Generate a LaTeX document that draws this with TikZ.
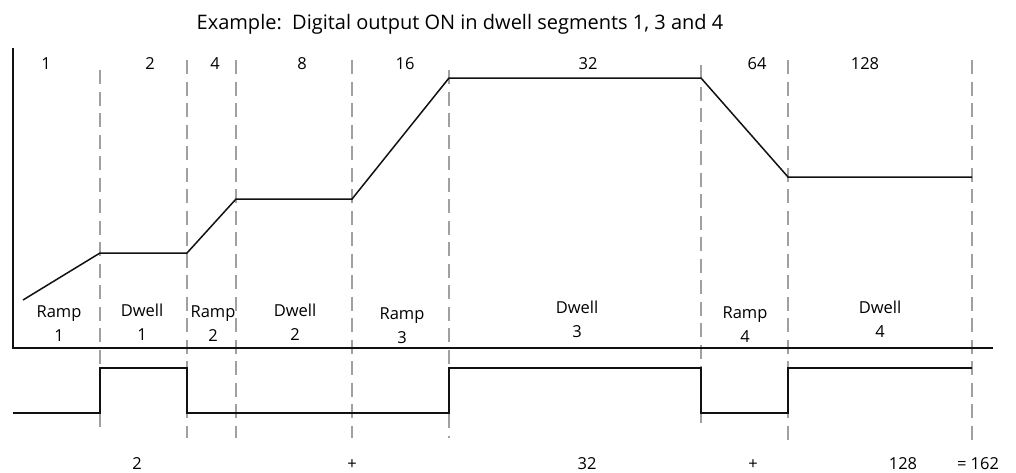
\documentclass[tikz,border=0pt]{standalone}
\usepackage{fontspec}
\setmainfont{Open Sans}
\usetikzlibrary{positioning,calc}
\definecolor{gdInk}{HTML}{111111}
\definecolor{gdGrid}{HTML}{A0A0A0}
\tikzset{
  seg/.style={draw=gdGrid, line width=1.3pt, dash pattern=on 14pt off 7.5pt},
  trace/.style={draw=gdInk, line width=1.5pt, line join=miter},
  axisln/.style={draw=gdInk, line width=1.8pt},
  lbl/.style={font=\fontsize{16.5}{18}\selectfont, inner sep=0pt, anchor=base},
  ttl/.style={font=\fontsize{20}{22}\selectfont, inner sep=0pt, anchor=base},
}
\begin{document}
\begin{tikzpicture}[x=1pt, y=-1pt]
  \useasboundingbox (0,0) rectangle (1016,472);
  \node[ttl] (title) at (460,29) {Example:\ \ Digital output ON in dwell segments 1, 3 and 4};
  % segment boundaries
  \foreach \x/\t/\b in {100/70/427, 187/60/438, 236/60/438, 352/60/438, 449/70/438, 701/65/430, 788/60/445, 972/60/445}
    \draw[seg] (\x,\t) -- (\x,\b);
  % axes
  \draw[axisln] (13,48) -- (13,348) -- (993,348);
  % weights
  \foreach \x/\t in {46/1, 150/2, 215/4, 302/8, 405/16, 588/32, 757/64, 865/128}
    \node[lbl] (wt\t) at (\x,69) {\t};
  % setpoint profile
  \draw[trace] (23,300) -- (100,253) -- (187,253) -- (236,199) -- (352,199) -- (449,78) -- (701,78) -- (788,177) -- (972,177);
  % segment names
  \foreach \x/\y/\w/\k [count=\i] in {59/317/Ramp/1, 142/316/Dwell/1, 213/317/Ramp/2, 295/316/Dwell/2, 402/319/Ramp/3, 577/313/Dwell/3, 745/318/Ramp/4, 880/313/Dwell/4} {
    \node[lbl] (sn\i) at (\x,\y) {\w};
    \node[lbl] (sk\i) at (\x,\y+24) {\k};
  }
  % digital output
  \draw[trace] (13,413) -- (100,413) -- (100,368) -- (187,368) -- (187,413) -- (449,413) -- (449,368) -- (701,368) -- (701,413) -- (788,413) -- (788,368) -- (972,368);
  % sum
  \foreach \x/\t [count=\i] in {137/2, 352/+, 587/32, 753/+, 903/128, 978/= 162}
    \node[lbl] (sum\i) at (\x,469) {\t};
\end{tikzpicture}
\end{document}
